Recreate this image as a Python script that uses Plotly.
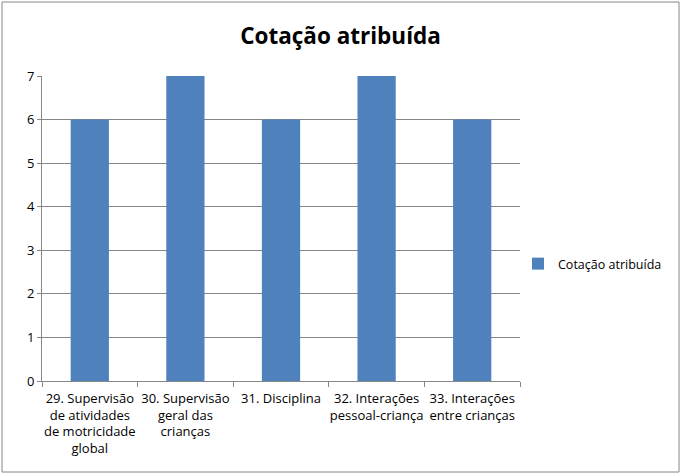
import plotly.graph_objects as go

categories = [
    "29. Supervisão<br>de atividades<br>de motricidade<br>global",
    "30. Supervisão<br>geral das<br>crianças",
    "31. Disciplina",
    "32. Interações<br>pessoal-criança",
    "33. Interações<br>entre crianças",
]
values = [6, 7, 6, 7, 6]
series_name = "Cotação atribuída"
title_text = "Cotação atribuída"

W, H = 681, 475
L, R, T, B = 42, 161, 76, 94
pw, ph = W - L - R, H - T - B

fig = go.Figure()
fig.add_trace(go.Bar(
    x=categories, y=values, name=series_name,
    marker=dict(color="#4F81BD", line=dict(width=0)),
    width=0.4, showlegend=True,
))

def px_x(x):
    return (x - L) / pw

def px_y(y):
    return (H - B - y) / ph

fig.update_layout(
    width=W, height=H,
    margin=dict(l=L, r=R, t=T, b=B, autoexpand=False),
    paper_bgcolor="white", plot_bgcolor="white",
    font=dict(family="Open Sans, sans-serif", size=13, color="#000000"),
    title=dict(text="<b>" + title_text + "</b>", x=0.5, xanchor="center",
               y=1 - 36 / H, yanchor="middle", font=dict(size=22.5)),
    showlegend=True,
    legend=dict(x=px_x(518), y=px_y(264), xanchor="left", yanchor="middle",
                font=dict(size=12.5), bgcolor="rgba(0,0,0,0)", itemwidth=30),
    bargap=0.6,
    xaxis=dict(
        showgrid=False, showline=True, linecolor="#868686", linewidth=1,
        ticks="outside", tickson="boundaries", ticklen=5, tickcolor="#868686",
        tickfont=dict(size=13), tickangle=0, ticklabelstandoff=5, fixedrange=True,
    ),
    yaxis=dict(
        range=[0, 7], dtick=1, showgrid=True, gridcolor="#868686", gridwidth=1,
        showline=True, linecolor="#868686", linewidth=1,
        ticks="outside", ticklen=4, tickcolor="#868686",
        tickfont=dict(size=13), zeroline=False, fixedrange=True,
    ),
    shapes=[dict(
        type="rect", xref="paper", yref="paper",
        x0=px_x(2), x1=px_x(679), y0=px_y(472), y1=px_y(2),
        line=dict(color="#868686", width=1), fillcolor="rgba(0,0,0,0)", layer="below",
    )],
)

fig.write_html("out.html")
